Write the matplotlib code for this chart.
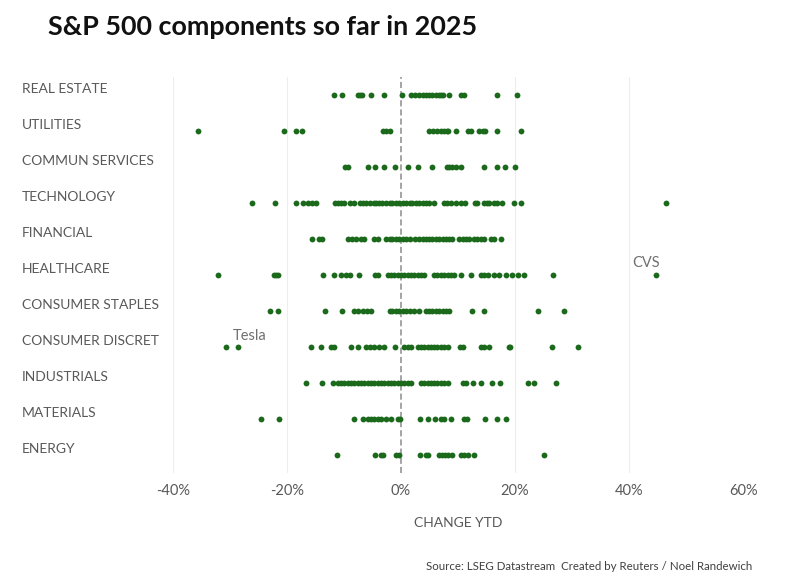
import matplotlib
matplotlib.use("Agg")
import matplotlib.pyplot as plt
from matplotlib.ticker import FuncFormatter

# sector names, top to bottom
sectors = ["REAL ESTATE", "UTILITIES", "COMMUN SERVICES", "TECHNOLOGY", "FINANCIAL",
           "HEALTHCARE", "CONSUMER STAPLES", "CONSUMER DISCRET", "INDUSTRIALS",
           "MATERIALS", "ENERGY"]

# % change YTD per component
real_estate = [-11.8, -10.4, -7.5, -7.1, -6.8, -5.2, -2.9, 0.1, 1.7, 2.5, 3.2, 3.8, 4.4,
               5.0, 5.5, 6.2, 6.7, 7.0, 7.4, 8.5, 10.5, 11.1, 16.9, 20.4]
utilities = [-35.6, -20.5, -18.4, -17.4, -3.1, -2.6, -2.0, 5.0, 5.7, 6.4, 7.0, 7.6, 8.0,
             8.3, 9.6, 11.7, 12.2, 13.7, 14.3, 14.8, 16.9, 21.0]
commun_services = [-9.8, -9.3, -5.7, -4.6, -2.9, -1.0, 1.2, 3.0, 5.5, 8.0, 8.5, 9.0, 9.6,
                   10.5, 14.6, 16.8, 18.2, 20.0]
technology = [-26.1, -22.0, -18.4, -17.1, -16.3, -15.6, -14.9, -11.5, -11.1, -10.5, -9.9,
              -9.0, -8.3, -7.1, -6.7, -6.1, -5.5, -4.8, -4.4, -3.8, -3.3, -2.6, -1.9, -1.5,
              -0.9, -0.3, 0.3, 0.9, 1.5, 2.0, 2.6, 3.2, 3.8, 4.4, 5.0, 5.8, 7.5, 8.0, 8.7,
              9.6, 10.5, 11.3, 13.0, 13.4, 14.6, 15.0, 15.5, 16.3, 16.9, 17.8, 19.9, 21.1,
              46.5]
financial = [-15.6, -14.3, -13.9, -9.3, -8.5, -7.9, -7.0, -6.4, -4.7, -4.1, -2.6, -2.0,
             -1.5, -0.9, -0.3, 0.3, 0.9, 1.5, 2.5, 3.2, 3.8, 4.4, 5.0, 5.5, 6.1, 6.7, 7.3,
             7.9, 8.5, 9.0, 10.2, 10.8, 11.4, 12.0, 12.8, 13.4, 14.0, 14.6, 15.7, 16.3,
             17.6]
healthcare = [-32.1, -22.2, -21.9, -21.6, -13.7, -11.8, -10.5, -9.6, -8.9, -7.4, -4.5,
              -4.1, -2.3, -1.7, -1.2, -0.6, 0.0, 0.6, 1.2, 1.7, 2.3, 2.9, 3.5, 4.1, 5.8,
              6.4, 7.0, 7.6, 8.2, 8.7, 9.3, 10.5, 12.2, 14.0, 14.6, 15.2, 16.3, 17.2, 18.4,
              19.5, 20.5, 21.6, 26.6, 44.7]
consumer_staples = [-23.0, -21.6, -13.4, -10.3, -8.2, -7.5, -6.7, -6.0, -5.2, -2.0, -1.5,
                    -0.9, -0.3, 0.3, 0.9, 1.6, 2.3, 3.1, 4.4, 5.0, 5.5, 6.1, 6.7, 7.3, 7.9,
                    8.5, 12.5, 14.6, 24.1, 28.6]
consumer_discret = [-30.7, -28.6, -15.7, -14.0, -12.2, -11.7, -8.7, -7.6, -6.2, -5.5, -4.7,
                    -3.8, -2.9, -1.0, 0.6, 1.2, 1.7, 2.9, 3.5, 4.1, 4.7, 5.2, 5.8, 6.4, 7.0,
                    7.6, 8.2, 10.4, 10.9, 14.0, 14.6, 15.5, 19.0, 19.2, 26.4, 31.1]
industrials = [-16.6, -13.8, -12.0, -11.1, -10.5, -9.9, -9.3, -8.7, -8.2, -7.6, -7.0, -6.4,
               -5.8, -5.2, -4.7, -4.1, -3.5, -2.9, -2.3, -1.7, -1.2, -0.6, 0.0, 0.6, 1.2,
               1.7, 3.5, 4.1, 4.7, 5.2, 5.8, 6.4, 7.0, 7.6, 8.2, 10.8, 11.4, 12.7, 14.1,
               16.0, 17.4, 22.2, 23.4, 27.2]
materials = [-24.5, -21.4, -8.2, -6.6, -5.8, -5.2, -4.7, -4.1, -3.5, -2.6, -1.7, -0.5,
             -0.1, 3.3, 4.8, 6.0, 7.0, 7.6, 8.7, 11.0, 11.5, 14.8, 16.9, 18.5]
energy = [-11.3, -4.5, -3.5, -3.1, -0.9, -0.4, 3.3, 4.4, 4.8, 6.7, 7.2, 7.8, 8.3, 8.9,
          10.5, 11.1, 11.7, 12.8, 25.1]

values = [real_estate, utilities, commun_services, technology, financial, healthcare,
          consumer_staples, consumer_discret, industrials, materials, energy]

# labelled outliers: (text, sector, value)
callouts = [("Tesla", "CONSUMER DISCRET", -28.6), ("CVS", "HEALTHCARE", 44.7)]

xticks = [-40, -20, 0, 20, 40, 60]

GREEN = "#1b6a1b"
GREY = "#595959"
FONT = "Lato"

fig = plt.figure(figsize=(8, 5.78), dpi=100)
ax = fig.add_axes([0.216, 0.1817, 0.713, 0.685])

n = len(sectors)
for i, (name, vals) in enumerate(zip(sectors, values)):
    y = n - 1 - i
    ax.plot(vals, [y] * len(vals), "o", color=GREEN, markersize=4.2,
            markeredgewidth=0, zorder=3)
    ax.annotate(name, xy=(22 / 800, y), xycoords=("figure fraction", "data"),
                xytext=(0, 4.3), textcoords="offset points", ha="left", va="center",
                fontsize=10, color=GREY, family=FONT)

for text, sector, val in callouts:
    y = n - 1 - sectors.index(sector)
    if text == "Tesla":
        ax.annotate(text, xy=(val, y), xytext=(-4, 8), textcoords="offset points",
                    ha="left", va="center", fontsize=10.5, color="#707070", family=FONT)
    else:
        ax.annotate(text, xy=(val, y), xytext=(-17, 9), textcoords="offset points",
                    ha="left", va="center", fontsize=10.5, color="#707070", family=FONT)

ax.axvline(0, color="#8c8c8c", linestyle=(0, (4, 2)), linewidth=1.1, zorder=2)
for xv in xticks:
    if xv != 0:
        ax.axvline(xv, color="#ededed", linewidth=0.8, zorder=1)

ax.set_xlim(-40, 60)
ax.set_ylim(-0.5, n - 0.5)
ax.set_xticks(xticks)
ax.xaxis.set_major_formatter(FuncFormatter(lambda v, p: f"{v:.0f}%"))
ax.set_yticks([])
ax.tick_params(axis="x", length=0, pad=8, labelsize=10.5, labelcolor=GREY)
for lbl in ax.get_xticklabels():
    lbl.set_family(FONT)
for s in ax.spines.values():
    s.set_visible(False)

fig.text(458 / 800, 1 - 523 / 578, "CHANGE YTD", ha="center", va="center",
         fontsize=10, color=GREY, family=FONT)
fig.text(752 / 800, 1 - 567 / 578,
         "Source: LSEG Datastream  Created by Reuters / Noel Randewich",
         ha="right", va="center", fontsize=8.3, color="#404040", family=FONT)
fig.text(48 / 800, 1 - 27 / 578, "S&P 500 components so far in 2025", ha="left",
         va="center", fontsize=19.4, fontweight="bold", color="#111111", family=FONT)

fig.savefig("out.png", dpi=100, facecolor="white")
